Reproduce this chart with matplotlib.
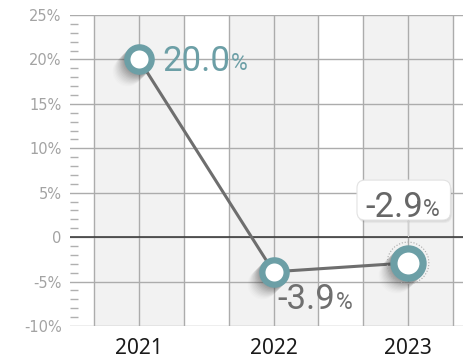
import matplotlib
matplotlib.use("Agg")
import matplotlib.pyplot as plt
import numpy as np
from matplotlib.transforms import ScaledTranslation, Bbox, IdentityTransform
from matplotlib.patches import FancyBboxPatch
from matplotlib.lines import Line2D

years = ["2021", "2022", "2023"]
growth = [20.0, -3.9, -2.9]
value_labels = ["20.0", "-3.9", "-2.9"]
ytick_vals = [-10, -5, 0, 5, 10, 15, 20, 25]
ytick_labels = ["-10%", "-5%", "0", "5%", "10%", "15%", "20%", "25%"]

TEAL = "#6c9fa6"
LINE = "#6e6e6e"
GRID = "#acacac"
BAND = "#f2f2f2"

fig = plt.figure(figsize=(4.64, 3.58), dpi=100)
ax = fig.add_axes([70/464, 32/358, (464-70)/464, 311/358])
x = np.arange(len(years))

ax.set_xlim(-0.513, 2.416)
ax.set_ylim(-10, 25)

# bands
for i in x:
    ax.axvspan(i - 1/3, i + 1/3, color=BAND, zorder=0, lw=0)

# grids
ax.set_xticks(x)
ax.set_xticklabels(years)
ax.set_xticks(np.arange(-1, 8) / 3, minor=True)
ax.set_yticks(ytick_vals)
ax.set_yticklabels(ytick_labels)
ax.set_yticks(np.arange(-10, 26, 1), minor=True)
ax.grid(True, which="both", axis="x", color=GRID, lw=1.0, zorder=1)
ax.grid(True, which="major", axis="y", color=GRID, lw=1.0, zorder=1)
ax.set_axisbelow(True)
ax.axhline(0, color="#333333", lw=1.1, zorder=1.5)

for s in ax.spines.values():
    s.set_visible(False)

ax.tick_params(axis="x", which="both", length=0, pad=9, labelsize=15, labelcolor="#1a1a1a")
ax.tick_params(axis="y", which="major", length=0, pad=6, labelsize=10.5, labelcolor="#a3a3a3")
ax.tick_params(axis="y", which="minor", direction="in", length=5.8, width=1.0, color="#b0b0b0")
for lab in ax.get_xticklabels():
    lab.set_fontfamily("Noto Sans")
for lab in ax.get_yticklabels():
    lab.set_fontfamily("DejaVu Sans")

# line
ax.plot(x, growth, color=LINE, lw=2.2, zorder=3, solid_capstyle="round")

# shadows (toward lower-left)
for k in range(1, 13):
    tr = ax.transData + ScaledTranslation(-k/100, -k/100, fig.dpi_scale_trans)
    a = 0.09 * (1 - k/14)
    ax.plot(x[:2], growth[:2], "o", ms=21.6, color="#444444", alpha=a, mew=0, transform=tr, zorder=3.5)
    ax.plot(x[2:], growth[2:], "o", ms=25.9, color="#444444", alpha=a, mew=0, transform=tr, zorder=3.5)

# markers
ax.plot(x[:2], growth[:2], "o", ls="none", ms=17.5, mfc="white", mec=TEAL, mew=4.5, zorder=4)
ax.plot(x[2:], growth[2:], "o", ls="none", ms=21.0, mfc="white", mec=TEAL, mew=5.2, zorder=4)
ax.scatter(x[2:], growth[2:], s=900, facecolors="none", edgecolors="#a8a8a8", linestyles=":", linewidths=0.8, zorder=3.8)

# value labels
big = dict(fontfamily="Roboto", fontweight="normal", fontsize=25)
small = dict(fontfamily="Roboto", fontweight="normal", fontsize=16.5)
offsets = [(17, -8), (3, -27), (-31, 33)]
colors = [TEAL, "#6f6f6f", "#666666"]
texts = []
for i in x:
    t = ax.annotate(value_labels[i], xy=(x[i], growth[i]), xytext=offsets[i], textcoords="offset points",
                    ha="left", va="baseline", color=colors[i], zorder=6, **big)
    p = ax.annotate("%", xy=(1, 0), xycoords=t, xytext=(0, 2.0), textcoords="offset points",
                    ha="left", va="bottom", color=colors[i], zorder=6, **small)
    texts.append((t, p))

# tooltip box around last label
fig.canvas.draw()
r = fig.canvas.get_renderer()
t, p = texts[2]
bb = Bbox.union([t.get_window_extent(r), p.get_window_extent(r)])
pl, pr, pt, pb = 8, 11, 11, -4
bx0, by0 = bb.x0 - pl, bb.y0 - pb
bw, bh = bb.width + pl + pr, bb.height + pt + pb
ident = IdentityTransform()
for k in range(1, 4):
    sh = FancyBboxPatch((bx0 + k*0.5, by0 - k), bw, bh,
                        boxstyle="round,pad=0,rounding_size=8", transform=ident,
                        facecolor="#000000", edgecolor="none", alpha=0.04, zorder=4.9, clip_on=False)
    ax.add_artist(sh)
box = FancyBboxPatch((bx0, by0), bw, bh,
                     boxstyle="round,pad=0,rounding_size=8", transform=ident,
                     facecolor="white", edgecolor="#e2e2e2", lw=0.8, zorder=5, clip_on=False)
ax.add_artist(box)
mx, my = ax.transData.transform((x[2], growth[2]))
ax.add_artist(Line2D([mx, mx], [by0, by0 - 16], transform=ident,
                     color="#d0d0d0", lw=0.8, zorder=5, clip_on=False))

fig.savefig("out.png", dpi=100)
